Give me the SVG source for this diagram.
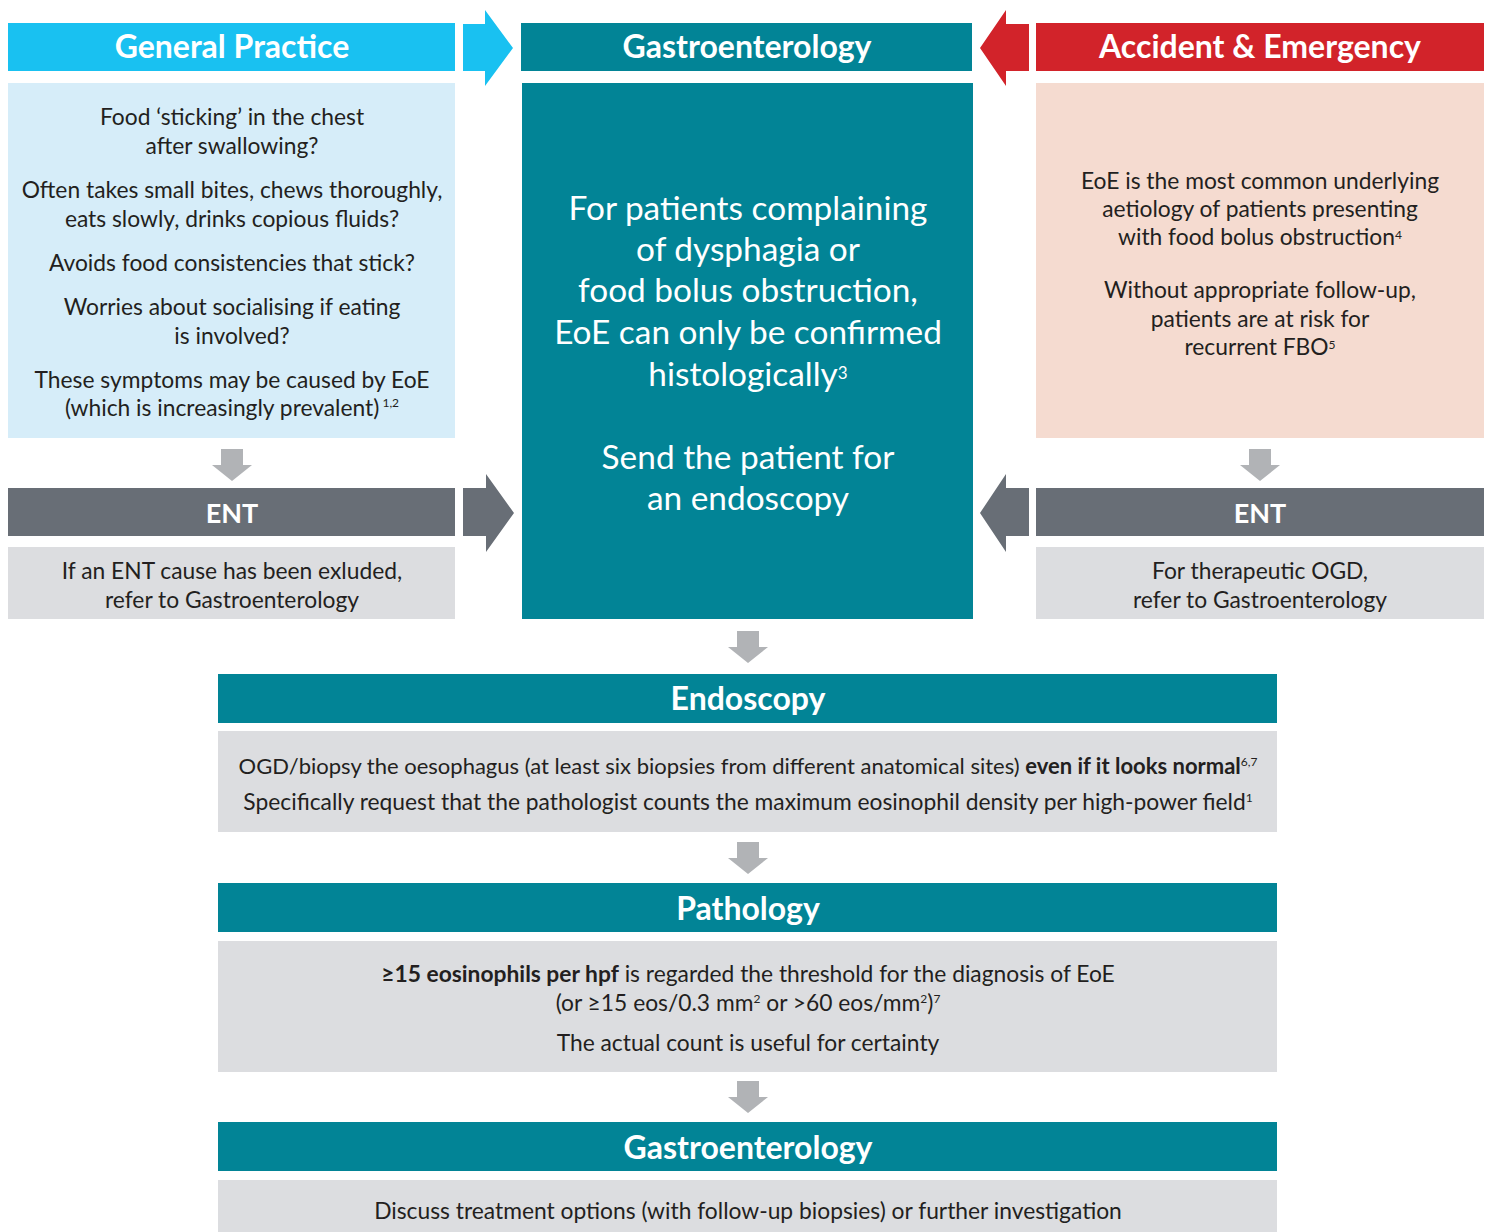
<svg xmlns="http://www.w3.org/2000/svg" width="1491" height="1232" viewBox="0 0 1491 1232">
<style>
text{font-family:Lato,"Open Sans","Liberation Sans",sans-serif;text-anchor:middle}
.hd{font-weight:bold;font-size:32px;fill:#fff}
.ent{font-weight:bold;font-size:27px;fill:#fff}
.bd{font-size:22.8px;fill:#231f20}
.bd2{font-size:22px;fill:#231f20}
.big{font-size:33.4px;fill:#fff}
.sup{font-size:12px}
.b{font-weight:bold}
.garr{fill:#b1b3b6}
</style>
<defs>
<polygon id="down" points="-11,0 11,0 11,16 20,16 0,32 -20,16 -11,16"/>
</defs>
<rect width="1491" height="1232" fill="#fff"/>

<g id="gp">
<rect x="8" y="23" width="447" height="48" fill="#19c1f1"/>
<text class="hd" x="232" y="58">General Practice</text>
<rect x="8" y="83" width="447" height="355" fill="#d6edf9"/>
<text class="bd" x="232" y="125">Food ‘sticking’ in the chest</text>
<text class="bd" x="232" y="154">after swallowing?</text>
<text class="bd" x="232" y="198">Often takes small bites, chews thoroughly,</text>
<text class="bd" x="232" y="227">eats slowly, drinks copious fluids?</text>
<text class="bd" x="232" y="271">Avoids food consistencies that stick?</text>
<text class="bd" x="232" y="315">Worries about socialising if eating</text>
<text class="bd" x="232" y="344">is involved?</text>
<text class="bd" x="232" y="388">These symptoms may be caused by EoE</text>
<text class="bd" x="232" y="416">(which is increasingly prevalent)<tspan class="sup" dy="-9"> 1,2</tspan></text>
</g>

<g id="gastro">
<rect x="521" y="23" width="451" height="48" fill="#028496"/>
<text class="hd" x="747" y="58">Gastroenterology</text>
<rect x="522" y="83" width="451" height="536" fill="#028496"/>
<text class="big" x="748" y="220">For patients complaining</text>
<text class="big" x="748" y="261">of dysphagia or</text>
<text class="big" x="748" y="302">food bolus obstruction,</text>
<text class="big" x="748" y="344">EoE can only be confirmed</text>
<text class="big" x="748" y="386">histologically<tspan font-size="17" dy="-7">3</tspan></text>
<text class="big" x="748" y="469">Send the patient for</text>
<text class="big" x="748" y="510">an endoscopy</text>
</g>

<g id="ae">
<rect x="1036" y="23" width="448" height="48" fill="#d2232a"/>
<text class="hd" x="1260" y="58">Accident &amp; Emergency</text>
<rect x="1036" y="83" width="448" height="355" fill="#f5dbd0"/>
<text class="bd" x="1260" y="189">EoE is the most common underlying</text>
<text class="bd" x="1260" y="217">aetiology of patients presenting</text>
<text class="bd" x="1260" y="245">with food bolus obstruction<tspan class="sup" dy="-6">4</tspan></text>
<text class="bd" x="1260" y="298">Without appropriate follow-up,</text>
<text class="bd" x="1260" y="327">patients are at risk for</text>
<text class="bd" x="1260" y="355">recurrent FBO<tspan class="sup" dy="-6">5</tspan></text>
</g>

<g id="ent-left">
<rect x="8" y="488" width="447" height="48" fill="#686e76"/>
<text class="ent" x="232" y="523">ENT</text>
<rect x="8" y="547" width="447" height="72" fill="#dcdde0"/>
<text class="bd" x="232" y="579">If an ENT cause has been exluded,</text>
<text class="bd" x="232" y="608">refer to Gastroenterology</text>
</g>

<g id="ent-right">
<rect x="1036" y="488" width="448" height="48" fill="#686e76"/>
<text class="ent" x="1260" y="523">ENT</text>
<rect x="1036" y="547" width="448" height="72" fill="#dcdde0"/>
<text class="bd" x="1260" y="579">For therapeutic OGD,</text>
<text class="bd" x="1260" y="608">refer to Gastroenterology</text>
</g>

<g id="endoscopy">
<rect x="218" y="674" width="1059" height="49" fill="#028496"/>
<text class="hd" x="748" y="710">Endoscopy</text>
<rect x="218" y="731" width="1059" height="101" fill="#dcdde0"/>
<text class="bd2" x="748" y="774">OGD/biopsy the oesophagus (at least six biopsies from different anatomical sites) <tspan class="b">even if it looks normal</tspan><tspan class="sup" dy="-8">6,7</tspan></text>
<text class="bd" x="748" y="810">Specifically request that the pathologist counts the maximum eosinophil density per high-power field<tspan class="sup" dy="-8">1</tspan></text>
</g>

<g id="pathology">
<rect x="218" y="883" width="1059" height="49" fill="#028496"/>
<text class="hd" x="748" y="920">Pathology</text>
<rect x="218" y="941" width="1059" height="131" fill="#dcdde0"/>
<text class="bd" x="748" y="982"><tspan class="b">≥15 eosinophils per hpf</tspan> is regarded the threshold for the diagnosis of EoE</text>
<text class="bd" x="748" y="1011">(or ≥15 eos/0.3 mm<tspan class="sup" dy="-8">2</tspan><tspan dy="8"> or &gt;60 eos/mm</tspan><tspan class="sup" dy="-8">2</tspan><tspan dy="8">)</tspan><tspan class="sup" dy="-8">7</tspan></text>
<text class="bd" x="748" y="1051">The actual count is useful for certainty</text>
</g>

<g id="gastro-final">
<rect x="218" y="1122" width="1059" height="49" fill="#028496"/>
<text class="hd" x="748" y="1159">Gastroenterology</text>
<rect x="218" y="1180" width="1059" height="52" fill="#dcdde0"/>
<text class="bd" x="748" y="1219">Discuss treatment options (with follow-up biopsies) or further investigation</text>
</g>

<g id="connectors">
<polygon points="463,24 485,24 485,10 513,48 485,86 485,71 463,71" fill="#19c1f1"/>
<polygon points="1029,24 1006,24 1006,10 980,48 1006,86 1006,71 1029,71" fill="#d2232a"/>
<polygon points="463,488 486,488 486,474 514,513 486,552 486,536 463,536" fill="#686e76"/>
<polygon points="1029,488 1006,488 1006,474 980,513 1006,552 1006,536 1029,536" fill="#686e76"/>
<use href="#down" class="garr" x="232" y="449"/>
<use href="#down" class="garr" x="1260" y="449"/>
<use href="#down" class="garr" x="748" y="631"/>
<use href="#down" class="garr" x="748" y="842"/>
<use href="#down" class="garr" x="748" y="1081"/>
</g>
</svg>
